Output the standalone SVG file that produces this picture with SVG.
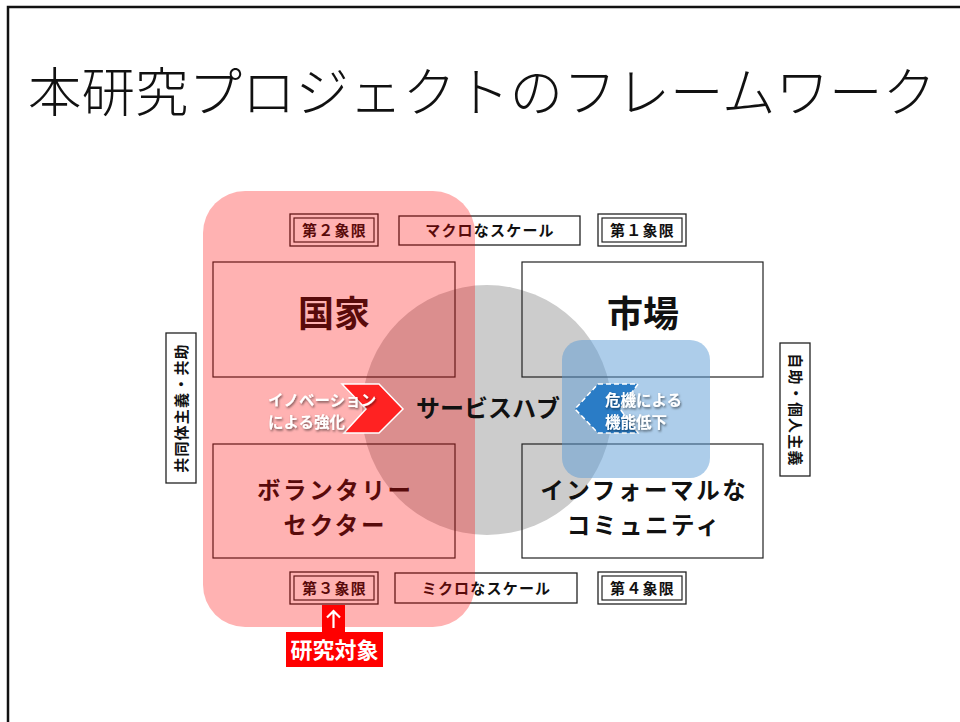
<svg xmlns="http://www.w3.org/2000/svg" width="960" height="722" viewBox="0 0 960 722">
<style>
.t{font-family:"Noto Sans CJK JP","Noto Sans",sans-serif;}
.box{fill:none;stroke:#222;stroke-width:1.2;}
.lbl{fill:#fff;stroke:#222;stroke-width:1.3;}
.q{font-family:"Noto Sans CJK JP",sans-serif;font-weight:700;font-size:15px;letter-spacing:1.2px;text-anchor:middle;fill:#111;}
.big{font-family:"Noto Sans CJK JP",sans-serif;font-weight:700;text-anchor:middle;fill:#111;}
.two{font-size:23.5px;letter-spacing:2.6px;}
.wt{font-family:"Noto Sans CJK JP",sans-serif;font-weight:700;font-size:15.5px;fill:#fff;}
</style>
<defs>
<filter id="sh" x="-10%" y="-20%" width="130%" height="150%">
<feDropShadow dx="1" dy="1.5" stdDeviation="1" flood-color="#000" flood-opacity="0.55"/>
</filter>
</defs>
<rect width="960" height="722" fill="#fff"/>
<rect x="8" y="7" width="960" height="730" fill="none" stroke="#111" stroke-width="2.5"/>
<text class="t" x="28" y="112" font-size="53.5" font-weight="300" fill="#111">本研究プロジェクトのフレームワーク</text>

<circle id="hub-circle" cx="487" cy="410" r="125" fill="#cccccc"/>

<g id="kokka"><rect class="box" x="213" y="262" width="242" height="115"/><text class="big" x="334" y="327" font-size="36">国家</text></g>
<g id="shijo"><rect class="box" x="522" y="262" width="241" height="115"/><text class="big" x="643" y="327" font-size="36">市場</text></g>
<g id="voluntary"><rect class="box" x="213" y="444" width="242" height="114"/><text class="big two" x="335.3" y="499">ボランタリー</text><text class="big two" x="335.3" y="533.5">セクター</text></g>
<g id="informal"><rect class="box" x="522" y="444" width="241" height="114"/><text class="big two" x="644.3" y="499">インフォーマルな</text><text class="big two" x="644.3" y="533.5">コミュニティ</text></g>

<g id="q2"><rect class="lbl" x="290" y="214" width="88" height="32"/><rect class="box" x="294" y="218" width="80" height="24"/><text class="q" x="334.5" y="235.5">第２象限</text></g>
<g id="macro"><rect class="lbl" x="399" y="216" width="181" height="29"/><text class="q" x="490" y="235.5">マクロなスケール</text></g>
<g id="q1"><rect class="lbl" x="598" y="214" width="88" height="32"/><rect class="box" x="602" y="218" width="80" height="24"/><text class="q" x="642.5" y="235.5">第１象限</text></g>
<g id="q3"><rect class="lbl" x="290" y="572" width="88" height="32"/><rect class="box" x="294" y="576" width="80" height="24"/><text class="q" x="334.5" y="593.5">第３象限</text></g>
<g id="micro"><rect class="lbl" x="395" y="573" width="182" height="30"/><text class="q" x="486.5" y="593.5">ミクロなスケール</text></g>
<g id="q4"><rect class="lbl" x="598" y="572" width="88" height="32"/><rect class="box" x="602" y="576" width="80" height="24"/><text class="q" x="642.5" y="593.5">第４象限</text></g>

<g id="communitarian"><rect class="lbl" x="166" y="333" width="30" height="150"/><text class="q" transform="translate(186.5,408) rotate(-90)" x="0" y="0">共同体主義・共助</text></g>
<g id="individualism"><rect class="lbl" x="780" y="343" width="30" height="133"/><text class="q" transform="translate(789.5,410) rotate(90)" x="0" y="0">自助・個人主義</text></g>

<rect id="red-overlay" x="203" y="191" width="272" height="436" rx="42" fill="#ff0000" fill-opacity="0.3"/>
<rect id="blue-overlay" x="562" y="340" width="148" height="138" rx="20" fill="#5b9bd5" fill-opacity="0.5"/>

<g id="hub"><text class="big" x="488" y="417" font-size="24" fill="#111">サービスハブ</text></g>

<g id="connectors">
<polygon points="342,384 379,384 403,409 379,433 344,433 366,409" fill="#f22" stroke="#fff" stroke-width="1.5"/>
<polygon points="598,384 638,384 620,409 638,433 598,433 575,409" fill="#2a7cc6" stroke="#fff" stroke-width="1.5" stroke-dasharray="5,3"/>
</g>
<g id="innovation" filter="url(#sh)"><text class="wt" x="268" y="406">イノベーション</text><text class="wt" x="268" y="428">による強化</text></g>
<g id="crisis" filter="url(#sh)"><text class="wt" x="605" y="406">危機による</text><text class="wt" x="605" y="428">機能低下</text></g>

<g id="target">
<rect x="322" y="605" width="23" height="28" fill="#ff0000"/>
<path d="M333.5 628 V611 M327 617.5 L333.5 611 L340 617.5" fill="none" stroke="#fff" stroke-width="2.2"/>
<rect x="286" y="632" width="97" height="35" fill="#ff0000"/>
<text x="334.5" y="658" font-family="Noto Sans CJK JP,sans-serif" font-weight="700" font-size="22" fill="#fff" text-anchor="middle">研究対象</text>
</g>
</svg>
